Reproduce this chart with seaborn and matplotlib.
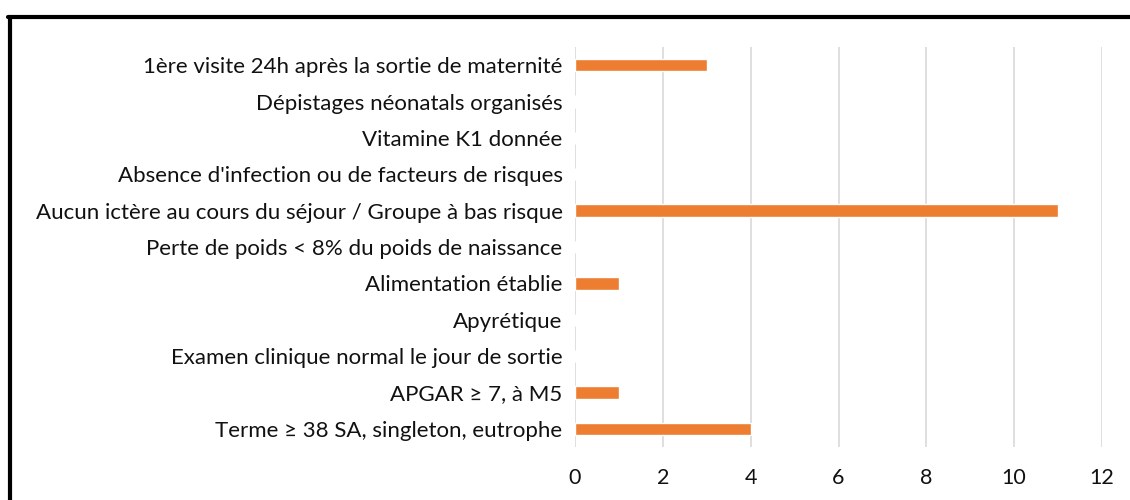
import matplotlib
matplotlib.use("Agg")
import matplotlib.pyplot as plt
import seaborn as sns
import pandas as pd
from matplotlib.lines import Line2D

# critères de sortie (de haut en bas)
criteres = [
    "1ère visite 24h après la sortie de maternité",
    "Dépistages néonatals organisés",
    "Vitamine K1 donnée",
    "Absence d'infection ou de facteurs de risques",
    "Aucun ictère au cours du séjour / Groupe à bas risque",
    "Perte de poids < 8% du poids de naissance",
    "Alimentation établie",
    "Apyrétique",
    "Examen clinique normal le jour de sortie",
    "APGAR ≥ 7, à M5",
    "Terme ≥ 38 SA, singleton, eutrophe",
]
effectifs = [3, 0, 0, 0, 11, 0, 1, 0, 0, 1, 4]
x_ticks = [0, 2, 4, 6, 8, 10, 12]

df = pd.DataFrame({"critere": criteres, "n": effectifs})

sns.set_style("white")
plt.rcParams["font.family"] = ["Lato", "DejaVu Sans"]

fig = plt.figure(figsize=(11.3, 5), dpi=100)
ax = fig.add_axes([575 / 1130, 1 - 447 / 500, (1102 - 575) / 1130, 400 / 500])

sns.barplot(data=df, x="n", y="critere", orient="h", color="#ED7D31",
            width=0.34, saturation=1, ax=ax, zorder=3)

ax.set_xlim(0, 12)
ax.set_xticks(x_ticks)
ax.set_xlabel("")
ax.set_ylabel("")
ax.grid(axis="x", color="#D9D9D9", linewidth=1.2, zorder=0)
ax.grid(axis="y", visible=False)
for s in ax.spines.values():
    s.set_visible(False)
ax.tick_params(axis="y", length=0, pad=9, labelsize=16, labelcolor="#111111")
ax.tick_params(axis="x", length=0, pad=15, labelsize=15.5, labelcolor="#111111")

# cadre noir (haut et gauche)
fig.add_artist(Line2D([8 / 1130, 1], [1 - 17 / 500, 1 - 17 / 500],
                      transform=fig.transFigure, color="black", linewidth=3))
fig.add_artist(Line2D([10 / 1130, 10 / 1130], [0, 1 - 17 / 500],
                      transform=fig.transFigure, color="black", linewidth=3))

fig.savefig("out.png", dpi=100)
